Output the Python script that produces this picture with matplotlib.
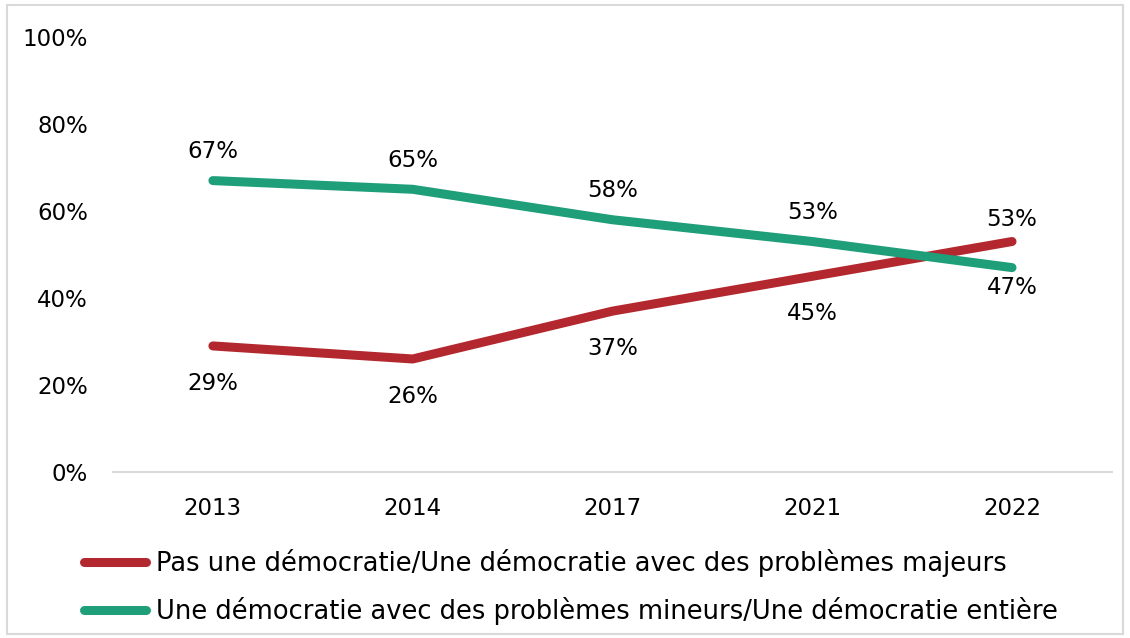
import matplotlib.pyplot as plt
import matplotlib.patches as patches
import numpy as np

# data
years = ['2013', '2014', '2017', '2021', '2022']
pas_democratie = [29, 26, 37, 45, 53]
democratie = [67, 65, 58, 53, 47]

red = '#B3282E'
green = '#1F9E7A'

plt.rcParams['font.family'] = 'DejaVu Sans'

fig = plt.figure(figsize=(11.3, 6.38), dpi=100)
ax = fig.add_axes([0.1, 0.26, 0.884, 0.682])

x = np.arange(len(years)) + 0.5
ax.plot(x, pas_democratie, color=red, lw=6.5, solid_capstyle='round',
        label='Pas une démocratie/Une démocratie avec des problèmes majeurs')
ax.plot(x, democratie, color=green, lw=6.5, solid_capstyle='round',
        label='Une démocratie avec des problèmes mineurs/Une démocratie entière')

# data labels
fs = 16.5
for i, (r, g) in enumerate(zip(pas_democratie, democratie)):
    if r > g:
        ax.annotate(f'{r}%', (x[i], r), xytext=(0, 16), textcoords='offset points',
                    ha='center', va='center', fontsize=fs)
        ax.annotate(f'{g}%', (x[i], g), xytext=(0, -14), textcoords='offset points',
                    ha='center', va='center', fontsize=fs)
    else:
        ax.annotate(f'{r}%', (x[i], r), xytext=(0, -27), textcoords='offset points',
                    ha='center', va='center', fontsize=fs)
        ax.annotate(f'{g}%', (x[i], g), xytext=(0, 21), textcoords='offset points',
                    ha='center', va='center', fontsize=fs)

ax.set_xlim(0, len(years))
ax.set_ylim(0, 100)
ax.set_xticks(x)
ax.set_xticklabels(years)
ax.set_yticks(range(0, 101, 20))
ax.set_yticklabels([f'{v}%' for v in range(0, 101, 20)])
ax.tick_params(length=0, labelsize=fs, pad=18)
ax.tick_params(axis='y', pad=18)
for s in ['top', 'right', 'left']:
    ax.spines[s].set_visible(False)
ax.spines['bottom'].set_color('#D9D9D9')
ax.spines['bottom'].set_linewidth(1.5)

fig.legend(loc='upper left', bbox_to_anchor=(0.054, 0.175), frameon=False,
           fontsize=18.5, handlelength=2.4, handletextpad=0.4, labelspacing=0.75)

# chart border
fig.patches.append(patches.Rectangle((0.006, 0.006), 0.988, 0.986, transform=fig.transFigure,
                                     fill=False, edgecolor='#D9D9D9', lw=1.5))

plt.savefig('out.png', dpi=100)
